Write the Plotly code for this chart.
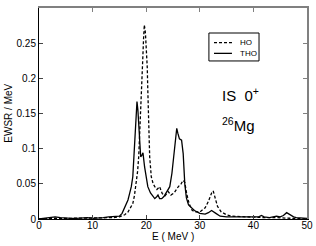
import plotly.graph_objects as go

# THO (solid)
E_tho = [0, 1, 2, 3, 4, 5, 6, 7, 8, 9, 10, 11, 12, 13, 14, 15, 15.5, 16.1, 16.6, 16.9, 17.22, 17.5,
         17.72, 18.04, 18.28, 18.45, 18.6, 18.8, 18.97, 19.15, 19.4, 19.7, 20.0, 20.3, 20.8, 21.3,
         21.6, 22.0, 22.2, 22.5, 22.9, 23.3, 23.8, 24.4, 24.8, 25.2, 25.5, 25.7, 25.9, 26.2, 26.6,
         26.9, 27.2, 27.5, 27.9, 28.5, 29, 30, 31, 31.6, 32.2, 33, 33.8, 35, 36, 38, 40, 41, 41.5,
         42, 43, 44.3, 45, 45.6, 46.2, 46.8, 47.5, 48, 49, 50]
tho = [0, 0.001, 0.002, 0.003, 0.002, 0.001, 0.001, 0.001, 0.002, 0.002, 0.001, 0.001, 0.002, 0.003,
       0.003, 0.004, 0.008, 0.0175, 0.027, 0.036, 0.046, 0.06, 0.0885, 0.136, 0.167, 0.155, 0.136,
       0.112, 0.0885, 0.09, 0.094, 0.074, 0.058, 0.046, 0.037, 0.031, 0.029, 0.032, 0.034, 0.029,
       0.029, 0.032, 0.038, 0.046, 0.065, 0.093, 0.118, 0.129, 0.122, 0.114, 0.112, 0.093, 0.05,
       0.03, 0.02, 0.015, 0.012, 0.008, 0.007, 0.009, 0.012, 0.008, 0.004, 0.003, 0.003, 0.002,
       0.002, 0.003, 0.005, 0.003, 0.002, 0.004, 0.003, 0.005, 0.009, 0.006, 0.003, 0.002, 0.001,
       0.001]

# HO (dashed)
E_ho = [0, 2, 4, 6, 8, 10, 12, 13, 14, 15, 16, 16.6, 17.0, 17.5, 17.8, 18.15, 18.4, 18.6, 18.9, 19.1,
        19.35, 19.5, 19.65, 19.85, 20.05, 20.2, 20.3, 20.5, 20.65, 20.95, 21.3, 21.6, 22.0, 22.5,
        23.0, 23.5, 24.1, 24.6, 25.2, 26.0, 26.5, 26.9, 27.2, 27.55, 28.0, 28.5, 29.0, 30.0, 31.0,
        31.6, 32.2, 32.5, 32.9, 33.3, 34.0, 35, 36, 38, 40, 42, 44, 46, 48, 50]
ho = [0, 0.001, 0.001, 0.001, 0.001, 0.001, 0.001, 0.001, 0.002, 0.003, 0.006, 0.01, 0.015, 0.022,
      0.033, 0.05, 0.068, 0.0885, 0.136, 0.183, 0.226, 0.255, 0.276, 0.265, 0.24, 0.215, 0.183,
      0.136, 0.0885, 0.06, 0.05, 0.046, 0.042, 0.046, 0.036, 0.033, 0.039, 0.034, 0.037, 0.046,
      0.05, 0.055, 0.052, 0.036, 0.022, 0.013, 0.01, 0.01, 0.016, 0.025, 0.037, 0.04, 0.03, 0.018,
      0.01, 0.006, 0.004, 0.003, 0.002, 0.002, 0.002, 0.001, 0.001, 0.0]

series_names = ["HO", "THO"]
x_ticks = [0, 10, 20, 30, 40, 50]
y_ticks = [0, 0.05, 0.1, 0.15, 0.2, 0.25]
y_ticktext = ["0", "0.05", "0.1", "0.15", "0.2", "0.25"]

FONT = "Liberation Sans, Arial, sans-serif"
DASH = "3px,2px"

fig = go.Figure()
fig.add_trace(go.Scatter(x=E_ho, y=ho, mode="lines", name=series_names[0],
                         line=dict(color="black", width=1.3, dash=DASH)))
fig.add_trace(go.Scatter(x=E_tho, y=tho, mode="lines", name=series_names[1],
                         line=dict(color="black", width=1.3)))
# invisible trace to anchor the gray top/right frame axes
fig.add_trace(go.Scatter(x=[None], y=[None], xaxis="x2", yaxis="y2", showlegend=False,
                         hoverinfo="skip", mode="lines"))

# manual legend box (paper coordinates)
lx0, lx1, ly0, ly1 = 0.634, 0.821, 0.749, 0.8815
shapes = [
    dict(type="rect", xref="paper", yref="paper", x0=lx0, x1=lx1, y0=ly0, y1=ly1,
         line=dict(color="black", width=1), fillcolor="white", layer="above"),
    dict(type="line", xref="paper", yref="paper", x0=0.653, x1=0.72, y0=0.8355, y1=0.8355,
         line=dict(color="black", width=1.3, dash=DASH), layer="above"),
    dict(type="line", xref="paper", yref="paper", x0=0.653, x1=0.72, y0=0.785, y1=0.785,
         line=dict(color="black", width=1.3), layer="above"),
]

annotations = [
    dict(text=series_names[0], x=0.7425, y=0.8355, xref="paper", yref="paper",
         xanchor="left", yanchor="middle", showarrow=False, font=dict(size=8)),
    dict(text=series_names[1], x=0.7425, y=0.785, xref="paper", yref="paper",
         xanchor="left", yanchor="middle", showarrow=False, font=dict(size=8)),
    dict(text="IS  0<sup>+</sup>", x=0.676, y=0.592, xref="paper", yref="paper",
         xanchor="left", yanchor="middle", showarrow=False, font=dict(size=15)),
    dict(text="<sup>26</sup>Mg", x=0.676, y=0.45, xref="paper", yref="paper",
         xanchor="left", yanchor="middle", showarrow=False, font=dict(size=15)),
    dict(text="E ( MeV )", x=0.5, y=-0.085, xref="paper", yref="paper",
         xanchor="center", yanchor="middle", showarrow=False, font=dict(size=10)),
    dict(text="EWSR / MeV", x=-0.115, y=0.5, xref="paper", yref="paper", textangle=-90,
         xanchor="center", yanchor="middle", showarrow=False, font=dict(size=10)),
]

fig.update_layout(
    width=316, height=246,
    margin=dict(l=39, r=9, t=8, b=27, autoexpand=False),
    paper_bgcolor="white", plot_bgcolor="white",
    font=dict(family=FONT, size=10, color="black"),
    showlegend=False,
    xaxis=dict(range=[0, 50], tickvals=x_ticks, ticks="inside", ticklen=4, automargin=False,
               showline=True, linecolor="black", linewidth=1, showgrid=False, zeroline=False,
               tickfont=dict(size=10), ticklabelstandoff=-3),
    yaxis=dict(range=[0, 0.3], tickvals=y_ticks, ticktext=y_ticktext, ticks="inside", ticklen=4,
               automargin=False,
               showline=True, linecolor="black", linewidth=1, showgrid=False, zeroline=False,
               tickfont=dict(size=10)),
    xaxis2=dict(range=[0, 50], overlaying="x", side="top", tickvals=x_ticks, ticks="inside",
                ticklen=4, tickcolor="gray", showline=True, linecolor="gray", linewidth=1.5,
                showticklabels=False, showgrid=False, zeroline=False, automargin=False),
    yaxis2=dict(range=[0, 0.3], overlaying="y", side="right", tickvals=y_ticks, ticks="inside",
                ticklen=4, tickcolor="gray", showline=True, linecolor="gray", linewidth=1.5,
                showticklabels=False, showgrid=False, zeroline=False, automargin=False),
    shapes=shapes,
    annotations=annotations,
)

fig.write_html("out.html", config={"displayModeBar": False},
               post_script="document.body.style.margin='0';document.body.style.overflow='hidden';")
